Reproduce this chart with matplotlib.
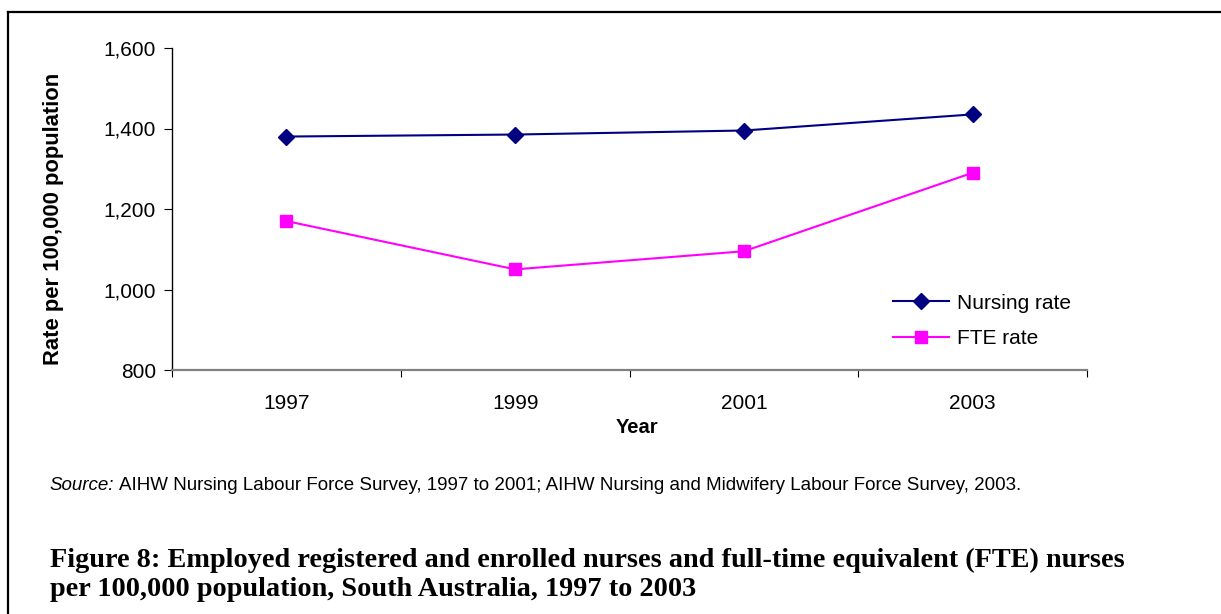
import matplotlib.pyplot as plt
from matplotlib.lines import Line2D

# Datos
years = ['1997', '1999', '2001', '2003']
nursing_rate = [1380, 1385, 1395, 1435]
fte_rate = [1170, 1050, 1095, 1290]
y_ticks = [800, 1000, 1200, 1400, 1600]

plt.rcParams['font.family'] = ['Liberation Sans', 'DejaVu Sans']

W, H = 1221, 614
fig = plt.figure(figsize=(W / 100, H / 100), dpi=100)
ax = fig.add_axes([172 / W, 1 - 370 / H, (1087 - 172) / W, (370 - 48) / H])

x = list(range(len(years)))
ax.plot(x, nursing_rate, color='#000080', marker='D', markersize=8.5, lw=1.5, label='Nursing rate')
ax.plot(x, fte_rate, color='#ff00ff', marker='s', markersize=8, lw=1.5, label='FTE rate')

ax.set_xlim(-0.5, len(years) - 0.5)
ax.set_ylim(800, 1600)
ax.set_yticks(y_ticks)
ax.set_yticklabels([f'{v:,}' for v in y_ticks], fontsize=15)

# Etiquetas en el centro, marcas entre categorias
ax.set_xticks([i - 0.5 for i in range(len(years) + 1)])
ax.set_xticklabels([])
ax.set_xticks(x, minor=True)
ax.set_xticklabels(years, minor=True, fontsize=15)
ax.tick_params(axis='x', which='minor', length=0, pad=17)
ax.tick_params(axis='x', which='major', length=5, color='black')
ax.tick_params(axis='y', length=6, color='black', pad=5.5)

for s in ['top', 'right']:
    ax.spines[s].set_visible(False)
ax.spines['left'].set_color('black')
ax.spines['left'].set_linewidth(1.0)
ax.spines['bottom'].set_color('#808080')
ax.spines['bottom'].set_linewidth(1.6)

ax.set_ylabel('Rate per 100,000 population', fontsize=15.8, fontweight='bold')
ax.yaxis.set_label_coords((64 - 172) / 915, 0.469)
ax.set_xlabel('Year', fontsize=14.5, fontweight='bold')
ax.xaxis.set_label_coords((637 - 172) / 915, (370 - 418) / 322)

ax.legend(loc='center left', bbox_to_anchor=((893 - 172) / 915, (370 - 321) / 322), frameon=False,
          fontsize=15, handlelength=2.7, labelspacing=0.8, handletextpad=0.35,
          borderpad=0, borderaxespad=0)

# Texto de fuente
t1 = fig.text(49 / W, 1 - 490 / H, 'Source:', fontsize=13.5, style='italic', va='baseline')
fig.canvas.draw()
bb = t1.get_window_extent()
fig.text(bb.x1 / W + 5 / W, 1 - 490 / H,
         'AIHW Nursing Labour Force Survey, 1997 to 2001; AIHW Nursing and Midwifery Labour Force Survey, 2003.',
         fontsize=13.5, va='baseline')

# Titulo de la figura
fig.text(50 / W, 1 - 567 / H,
         'Figure 8: Employed registered and enrolled nurses and full-time equivalent (FTE) nurses',
         fontsize=20.3, fontweight='bold', family='Liberation Serif', va='baseline')
fig.text(50 / W, 1 - 596 / H, 'per 100,000 population, South Australia, 1997 to 2003',
         fontsize=20.3, fontweight='bold', family='Liberation Serif', va='baseline')

# Marco del borde
fig.add_artist(Line2D([8 / W, 1], [1 - 12 / H, 1 - 12 / H], color='black', lw=1.6))
fig.add_artist(Line2D([8 / W, 8 / W], [0, 1 - 12 / H], color='black', lw=1.6))

fig.savefig('out.png', dpi=100)
